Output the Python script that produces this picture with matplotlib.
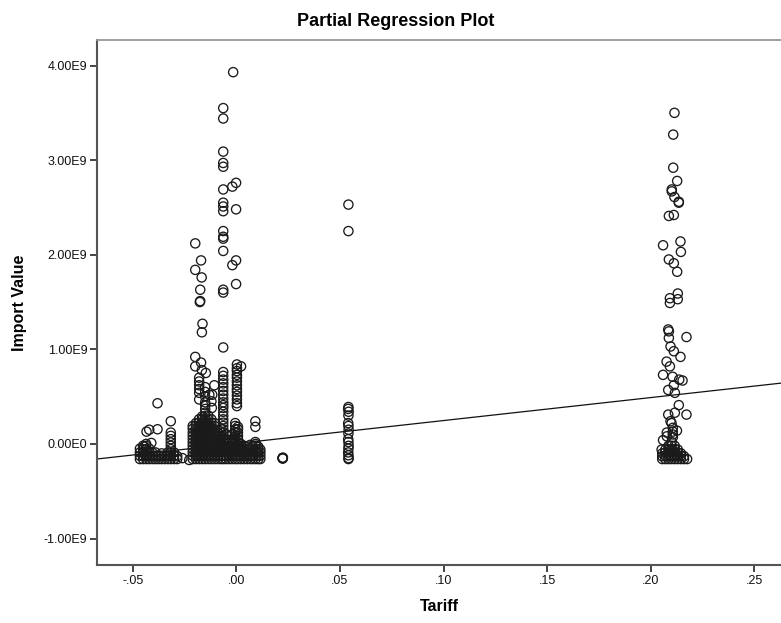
import matplotlib
matplotlib.use("Agg")
import matplotlib.pyplot as plt

plt.rcParams['font.family'] = ['Liberation Sans', 'DejaVu Sans']

# ---------------- data: (Tariff, Import Value in units of 1e9) ----------------
# individual, clearly readable points
left_group = [(-0.0380, 0.43), (-0.0420, 0.15), (-0.0380, 0.155), (-0.0433, 0.13),
              (-0.0444, -0.03), (-0.0410, 0.01), (-0.0316, 0.24),
              (-0.0260, -0.15), (-0.0227, -0.17)]

col_m018 = [(-0.0198, 2.12), (-0.0198, 1.84), (-0.0170, 1.94), (-0.0167, 1.76),
            (-0.0174, 1.63), (-0.0174, 1.51), (-0.0176, 1.50), (-0.0163, 1.27),
            (-0.0166, 1.18), (-0.0198, 0.92), (-0.0170, 0.86), (-0.0198, 0.82),
            (-0.0166, 0.78), (-0.0147, 0.75), (-0.0179, 0.70), (-0.0179, 0.66),
            (-0.0179, 0.62), (-0.0179, 0.58), (-0.0179, 0.54), (-0.0179, 0.47),
            (-0.0106, 0.62), (-0.0130, 0.52), (-0.0116, 0.52), (-0.0120, 0.45),
            (-0.0118, 0.38)]

col_m006 = [(-0.0015, 3.93), (-0.0063, 3.55), (-0.0063, 3.44), (-0.0063, 3.09),
            (-0.0063, 2.97), (-0.0063, 2.93), (-0.0063, 2.69), (-0.0063, 2.55),
            (-0.0063, 2.51), (-0.0063, 2.46), (-0.0063, 2.25), (-0.0063, 2.19),
            (-0.0063, 2.17), (-0.0063, 2.04), (-0.0063, 1.63), (-0.0063, 1.60),
            (-0.0063, 1.02), (-0.0063, 0.76), (-0.0063, 0.72), (-0.0063, 0.68),
            (-0.0063, 0.64), (-0.0063, 0.60), (-0.0063, 0.56), (-0.0063, 0.52),
            (-0.0063, 0.48), (-0.0001, 2.76), (-0.0001, 2.48), (-0.0001, 1.94),
            (-0.0001, 1.69), (-0.0019, 2.72), (-0.0019, 1.89)]

col_000 = [(0.0003, 0.84), (0.0003, 0.80), (0.0003, 0.77), (0.0003, 0.73),
           (0.0003, 0.70), (0.0003, 0.66), (0.0003, 0.62), (0.0003, 0.58),
           (0.0003, 0.55), (0.0003, 0.51), (0.0003, 0.47), (0.0003, 0.43),
           (0.0003, 0.40), (0.0023, 0.82),
           (0.0092, 0.24), (0.0092, 0.18), (0.0092, 0.02)]

ring_022 = [(0.0224, -0.15), (0.0224, -0.155), (0.0225, -0.145), (0.0223, -0.15)]

col_054 = [(0.0541, 2.53), (0.0541, 2.25), (0.0541, 0.39), (0.0540, 0.37),
           (0.0542, 0.34), (0.0541, 0.30), (0.0540, 0.22), (0.0541, 0.19),
           (0.0542, 0.15), (0.0541, 0.11), (0.0540, 0.05), (0.0541, 0.02),
           (0.0542, -0.02), (0.0541, -0.05), (0.0540, -0.09), (0.0541, -0.12),
           (0.0542, -0.15), (0.0541, -0.16)]

col_021 = [(0.2114, 3.50), (0.2108, 3.27), (0.2108, 2.92), (0.2127, 2.78),
           (0.2101, 2.69), (0.2101, 2.67), (0.2114, 2.61), (0.2135, 2.56),
           (0.2135, 2.55), (0.2087, 2.41), (0.2111, 2.42), (0.2059, 2.10),
           (0.2143, 2.14), (0.2145, 2.03), (0.2087, 1.95), (0.2111, 1.91),
           (0.2127, 1.82), (0.2092, 1.54), (0.2092, 1.49), (0.2130, 1.59),
           (0.2130, 1.53), (0.2084, 1.21), (0.2087, 1.19), (0.2087, 1.12),
           (0.2172, 1.13), (0.2095, 1.03), (0.2111, 0.98), (0.2143, 0.92),
           (0.2076, 0.87), (0.2092, 0.82), (0.2059, 0.73), (0.2105, 0.71),
           (0.2137, 0.68), (0.2153, 0.67), (0.2111, 0.62), (0.2084, 0.57),
           (0.2116, 0.54), (0.2135, 0.41), (0.2116, 0.33), (0.2084, 0.31),
           (0.2172, 0.31), (0.2095, 0.24), (0.2100, 0.22), (0.2106, 0.17),
           (0.2106, 0.13), (0.2106, 0.10), (0.2106, 0.07), (0.2059, 0.04),
           (0.2077, 0.12), (0.2077, 0.08), (0.2126, 0.14), (0.2052, -0.06)]

# densely overplotted stacks: tariff value -> import values (1e9)
dense_stacks = {
    # left group floor
    -0.0465: [-0.16, -0.125, -0.09, -0.05],
    -0.0450: [-0.16, -0.125, -0.09, -0.055, -0.02],
    -0.0435: [-0.16, -0.125, -0.09, -0.055, -0.02, 0.00],
    -0.0420: [-0.16, -0.125, -0.09, -0.05],
    -0.0405: [-0.16, -0.125, -0.09],
    -0.0390: [-0.16, -0.125, -0.09],
    -0.0375: [-0.16, -0.125],
    -0.0360: [-0.16, -0.125, -0.10],
    -0.0345: [-0.16, -0.125],
    -0.0330: [-0.16, -0.125, -0.09],
    -0.0316: [-0.16, -0.125, -0.09, -0.055, -0.02, 0.015, 0.05, 0.085, 0.12],
    -0.0300: [-0.16, -0.125, -0.09],
    -0.0285: [-0.16, -0.13],
    # main group
    -0.0210: [-0.16, -0.125, -0.09, -0.055, -0.02, 0.015, 0.05, 0.085, 0.12, 0.16, 0.19],
    -0.0195: [-0.16, -0.125, -0.09, -0.055, -0.02, 0.015, 0.05, 0.085, 0.12, 0.155, 0.19, 0.22],
    -0.0180: [-0.16, -0.125, -0.09, -0.055, -0.02, 0.015, 0.05, 0.085, 0.12, 0.155, 0.19, 0.225,
              0.26],
    -0.0165: [-0.16, -0.125, -0.09, -0.055, -0.02, 0.015, 0.05, 0.085, 0.12, 0.155, 0.19, 0.225,
              0.26, 0.29],
    -0.0150: [-0.16, -0.125, -0.09, -0.055, -0.02, 0.015, 0.05, 0.085, 0.12, 0.155, 0.19, 0.225,
              0.26, 0.295, 0.33, 0.37, 0.41, 0.44, 0.50, 0.55, 0.60],
    -0.0135: [-0.16, -0.125, -0.09, -0.055, -0.02, 0.015, 0.05, 0.085, 0.12, 0.155, 0.19, 0.225,
              0.26, 0.30],
    -0.0120: [-0.16, -0.125, -0.09, -0.055, -0.02, 0.015, 0.05, 0.085, 0.12, 0.155, 0.19, 0.225,
              0.26],
    -0.0105: [-0.16, -0.125, -0.09, -0.055, -0.02, 0.015, 0.05, 0.085, 0.12, 0.155, 0.19, 0.22],
    -0.0090: [-0.16, -0.125, -0.09, -0.055, -0.02, 0.015, 0.05, 0.085, 0.12],
    -0.0075: [-0.16, -0.125, -0.09, -0.055, -0.02, 0.015, 0.05, 0.085, 0.12, 0.16],
    -0.0063: [-0.16, -0.125, -0.09, -0.055, -0.02, 0.015, 0.05, 0.085, 0.12, 0.155, 0.19, 0.225,
              0.26, 0.30, 0.34, 0.38, 0.41, 0.44],
    -0.0050: [-0.16, -0.125, -0.09, -0.055, -0.02, 0.015, 0.05, 0.10],
    -0.0035: [-0.16, -0.125, -0.09, -0.055, -0.02, 0.015, 0.04],
    -0.0020: [-0.16, -0.125, -0.09, -0.055, -0.02, 0.015, 0.05, 0.10],
    -0.0005: [-0.16, -0.125, -0.09, -0.055, -0.02, 0.015, 0.05, 0.085, 0.12, 0.155, 0.19, 0.22],
    0.0008: [-0.16, -0.125, -0.09, -0.055, -0.02, 0.015, 0.05, 0.085, 0.12, 0.155, 0.18],
    0.0022: [-0.16, -0.125, -0.09, -0.055, -0.02, 0.00],
    0.0037: [-0.16, -0.125, -0.09, -0.05, -0.02],
    0.0052: [-0.16, -0.125, -0.09, -0.06, -0.03],
    0.0067: [-0.16, -0.125, -0.09, -0.05, -0.01],
    0.0080: [-0.16, -0.125, -0.09, -0.05, -0.02],
    0.0093: [-0.16, -0.125, -0.09, -0.055, -0.02, 0.00],
    0.0106: [-0.16, -0.125, -0.09, -0.06, -0.03],
    0.0116: [-0.16, -0.125, -0.09, -0.06],
    # right group floor
    0.2055: [-0.16, -0.13, -0.10],
    0.2070: [-0.16, -0.125, -0.09, -0.06],
    0.2085: [-0.16, -0.125, -0.09, -0.055, -0.02],
    0.2100: [-0.16, -0.125, -0.09, -0.055, -0.02, 0.02],
    0.2115: [-0.16, -0.125, -0.09, -0.055, -0.02],
    0.2130: [-0.16, -0.125, -0.09, -0.06],
    0.2145: [-0.16, -0.125, -0.10],
    0.2160: [-0.16, -0.13],
    0.2175: [-0.16],
}

# fit line shown on the plot (import value in 1e9 per unit tariff)
line_slope = 2.43
line_intercept = 0.004

x_ticks = [-0.05, 0.00, 0.05, 0.10, 0.15, 0.20, 0.25]
x_tick_labels = ['-.05', '.00', '.05', '.10', '.15', '.20', '.25']
y_ticks = [-1.0, 0.0, 1.0, 2.0, 3.0, 4.0]
y_tick_labels = ['-1.00E9', '0.00E0', '1.00E9', '2.00E9', '3.00E9', '4.00E9']

title_text = 'Partial Regression Plot'
x_label = 'Tariff'
y_label = 'Import Value'

# ---------------- plotting ----------------
pairs = left_group + col_m018 + col_m006 + col_000 + ring_022 + col_054 + col_021
xs = [p[0] for p in pairs]
ys = [p[1] for p in pairs]
for tx, vals in dense_stacks.items():
    xs.extend([tx] * len(vals))
    ys.extend(vals)

fig = plt.figure(figsize=(7.81, 6.23), dpi=100)
ax = fig.add_axes([97 / 781, 58 / 623, 1 - 97 / 781, 525 / 623])

ax.scatter(xs, ys, s=44, facecolors='none', edgecolors='#1a1a1a', linewidths=0.95, zorder=3)

ax.axline((0, line_intercept), slope=line_slope, color='#111111', lw=0.9, zorder=2)

ax.set_xlim(-0.0672, 0.2628)
ax.set_ylim(-1.28, 4.27)

ax.set_xticks(x_ticks)
ax.set_xticklabels(x_tick_labels)
ax.set_yticks(y_ticks)
ax.set_yticklabels(y_tick_labels)
ax.tick_params(direction='out', length=5, width=1.4, color='#444444',
               labelsize=9, labelcolor='#111111', pad=2)

for side in ['left', 'bottom']:
    ax.spines[side].set_color('#555555')
    ax.spines[side].set_linewidth(1.5)
ax.spines['top'].set_color('#999999')
ax.spines['top'].set_linewidth(1.3)
ax.spines['right'].set_visible(False)

ax.set_xlabel(x_label, fontsize=11.5, fontweight='bold', labelpad=9)
ax.set_ylabel(y_label, fontsize=11.5, fontweight='bold', labelpad=12)
fig.text(396 / 781, 1 - 21 / 623, title_text, ha='center', va='center',
         fontsize=13, fontweight='bold')

fig.savefig('out.png', dpi=100)
